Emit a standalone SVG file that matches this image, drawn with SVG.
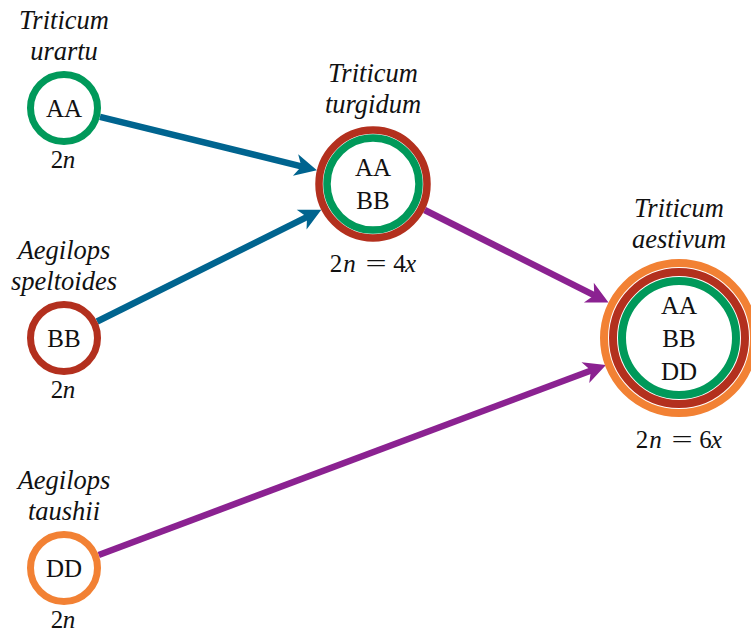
<svg xmlns="http://www.w3.org/2000/svg" width="751" height="635" viewBox="0 0 751 635">
  <style>
    .ring { fill: #fff; }
    .g { stroke: #00995a; }
    .r { stroke: #b3301e; }
    .o { stroke: #f28134; }
    .edge { fill: none; stroke-width: 6.5; }
    .blue { stroke: #00648f; }
    .purple { stroke: #8b2291; }
  </style>
  <defs>
    <marker id="ahBlue" markerUnits="userSpaceOnUse" markerWidth="30" markerHeight="30" viewBox="-15 -15 30 30" refX="0" refY="0" orient="auto" overflow="visible">
      <path d="M -9,-11 L 13,0 L -9,11 L -3,0 Z" fill="#00648f"/>
    </marker>
    <marker id="ahPurple" markerUnits="userSpaceOnUse" markerWidth="30" markerHeight="30" viewBox="-15 -15 30 30" refX="0" refY="0" orient="auto" overflow="visible">
      <path d="M -9,-11 L 13,0 L -9,11 L -3,0 Z" fill="#8b2291"/>
    </marker>
  </defs>

  <!-- connectors -->
  <g id="connectors">
    <line class="edge blue" x1="100" y1="116.8" x2="304.3" y2="167.1" marker-end="url(#ahBlue)"/>
    <line class="edge blue" x1="97.1" y1="321.5" x2="309.7" y2="215.6" marker-end="url(#ahBlue)"/>
    <line class="edge purple" x1="424.6" y1="210" x2="596.9" y2="296.7" marker-end="url(#ahPurple)"/>
    <line class="edge purple" x1="98.7" y1="555" x2="593.8" y2="369.5" marker-end="url(#ahPurple)"/>
  </g>

  <g font-family="Liberation Serif" font-size="25" fill="#111" text-anchor="middle">
    <!-- Triticum urartu -->
    <g id="urartu">
      <text x="64" y="29" font-style="italic" font-size="26.5">Triticum</text>
      <text x="64" y="60" font-style="italic" font-size="26.5">urartu</text>
      <circle class="ring g" cx="64" cy="108" r="33.5" stroke-width="7"/>
      <text x="64" y="116.5">AA</text>
      <text x="57" y="168">2</text>
      <text x="69" y="168" font-style="italic">n</text>
    </g>

    <!-- Aegilops speltoides -->
    <g id="speltoides">
      <text x="64" y="259" font-style="italic" font-size="26.5">Aegilops</text>
      <text x="64" y="290" font-style="italic" font-size="26.5">speltoides</text>
      <circle class="ring r" cx="64" cy="338" r="33.5" stroke-width="7"/>
      <text x="64" y="346.5">BB</text>
      <text x="57" y="398">2</text>
      <text x="69" y="398" font-style="italic">n</text>
    </g>

    <!-- Aegilops taushii -->
    <g id="taushii">
      <text x="64" y="489" font-style="italic" font-size="26.5">Aegilops</text>
      <text x="64" y="520" font-style="italic" font-size="26.5">taushii</text>
      <circle class="ring o" cx="64" cy="568" r="33.5" stroke-width="7"/>
      <text x="64" y="576.5">DD</text>
      <text x="57" y="628">2</text>
      <text x="69" y="628" font-style="italic">n</text>
    </g>

    <!-- Triticum turgidum -->
    <g id="turgidum">
      <text x="373" y="82" font-style="italic" font-size="26.5">Triticum</text>
      <text x="373" y="113" font-style="italic" font-size="26.5">turgidum</text>
      <circle class="ring r" cx="373" cy="184" r="54" stroke-width="7.5"/>
      <circle class="ring g" cx="373" cy="184" r="46" stroke-width="7.5"/>
      <text x="373" y="176">AA</text>
      <text x="373" y="209">BB</text>
      <text x="336" y="271.5">2</text>
      <text x="349.5" y="271.5" font-style="italic">n</text>
      <text transform="translate(376,271.5) scale(1.5,1)">=</text>
      <text x="399.5" y="271.5">4</text>
      <text x="410.5" y="271.5" font-style="italic">x</text>
    </g>

    <!-- Triticum aestivum -->
    <g id="aestivum">
      <text x="679" y="217" font-style="italic" font-size="26.5">Triticum</text>
      <text x="679" y="248" font-style="italic" font-size="26.5">aestivum</text>
      <circle class="ring o" cx="679" cy="338" r="75" stroke-width="8"/>
      <circle class="ring r" cx="679" cy="338" r="66" stroke-width="8"/>
      <circle class="ring g" cx="679" cy="338" r="57" stroke-width="8"/>
      <text x="679" y="314">AA</text>
      <text x="679" y="347">BB</text>
      <text x="679" y="380">DD</text>
      <text x="642" y="447.5">2</text>
      <text x="655.5" y="447.5" font-style="italic">n</text>
      <text transform="translate(682,447.5) scale(1.5,1)">=</text>
      <text x="705.5" y="447.5">6</text>
      <text x="716.5" y="447.5" font-style="italic">x</text>
    </g>
  </g>
</svg>
